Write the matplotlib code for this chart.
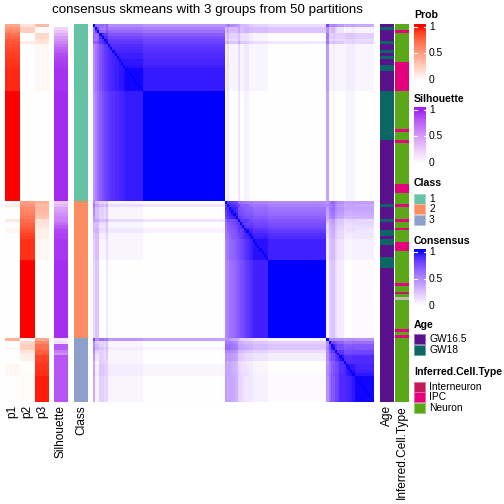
import numpy as np
import matplotlib
matplotlib.use('Agg')
import matplotlib.pyplot as plt
from matplotlib.colors import ListedColormap, to_rgb
from matplotlib.patches import Rectangle

plt.rcParams['font.family'] = ['Liberation Sans', 'DejaVu Sans']

# membership probabilities and silhouette, per sample, by class
p1_c1 = [0.45, 0.55, 0.62, 0.7, 0.75, 0.8, 0.82, 0.85, 0.87, 0.88, 0.9, 0.9, 0.92, 0.92, 0.93] + [0.95] * 8 + [1.0] * 38
p2_c1 = [0.15, 0.25, 0.25, 0, 0, 0, 0.1] + [0] * 54
p3_c1 = [0.35, 0.03, 0.03, 0.2, 0.2, 0.15, 0.15] + [0.04] * 16 + [0] * 38
sil_c1 = [0, 0.2, 0.3, 0.4, 0.5, 0.55, 0.6, 0.68, 0.75, 0.8, 0.85, 0.88, 0.9, 0.92, 0.93] + [0.95] * 8 + [0.97] * 38

p1_c2 = [0, 0.1, 0, 0, 0, 0, 0.12, 0, 0, 0.05, 0.05] + [0] * 36
p2_c2 = [0.5, 0.55, 0.6, 0.62, 0.65, 0.68, 0.72, 0.75, 0.78, 0.82, 0.85, 0.88, 0.9] + [0.93] * 7 + [1.0] * 27
p3_c2 = [0.4, 0.35, 0.38, 0.35, 0.33, 0.3, 0.15, 0.15, 0.12, 0.1, 0.08, 0.08, 0.08] + [0.04] * 7 + [0] * 27
sil_c2 = [0.28, 0.35, 0.45, 0.5, 0.55, 0.6, 0.62, 0.7, 0.8, 0.85, 0.88, 0.9, 0.9] + [0.93] * 7 + [0.96] * 27

p1_c3 = [0.4, 0, 0, 0.04, 0, 0, 0, 0, 0, 0.04, 0.04, 0.04, 0.04] + [0] * 9
p2_c3 = [0.05, 0.2, 0.25, 0.25, 0.15, 0.08, 0.08, 0.08, 0, 0, 0, 0] + [0.02] * 10
p3_c3 = [0.45, 0.6, 0.7, 0.7, 0.78, 0.8, 0.88, 0.88, 0.9, 0.92, 0.92, 0.94, 0.94] + [0.97] * 9
sil_c3 = [0.1, 0.15, 0.8, 0.8, 0.65, 0.55] + [0.82] * 16

class_labels = ['1', '2', '3']
class_colors = ['#66C2A5', '#FC8D62', '#8DA0CB']

# column annotations as runs (value, count)
age_levels = ['GW16.5', 'GW18']
age_colors = ['#5A128C', '#0A6766']
age_runs = ['GW16.5', 'GW18', 'GW16.5', 'GW18', 'GW16.5', 'GW18', 'GW16.5', 'GW18', 'GW16.5', 'GW18', 'GW16.5',
            'GW18', 'GW16.5', 'GW18', 'GW16.5', 'GW18', 'GW16.5', 'GW18', 'GW16.5', 'GW18', 'GW16.5', 'GW18', 'GW16.5']
age_counts = [1, 1, 4, 1, 2, 1, 1, 1, 2, 2, 7, 17, 22, 1, 4, 1, 3, 2, 1, 2, 4, 4, 46]

cell_levels = ['Interneuron', 'IPC', 'Neuron']
cell_colors = ['#C4185A', '#E5007D', '#5AA817']
na_color = '#BEBEBE'
cell_runs = ['Neuron', 'IPC', 'Neuron', 'IPC', 'Neuron', 'IPC', 'Neuron', 'IPC', 'Neuron', 'IPC', 'Neuron',
             'IPC', 'Neuron', 'IPC', 'Neuron', 'IPC', 'Neuron', 'IPC', 'Neuron', 'IPC', 'Neuron', 'Interneuron',
             'Neuron', 'NA', 'Neuron', 'IPC', 'Neuron', 'IPC', 'Neuron']
cell_counts = [2, 1, 10, 10, 13, 1, 3, 1, 14, 3, 4, 1, 4, 1, 2, 1, 4, 3, 11, 1, 2, 1, 1, 1, 10, 1, 1, 1, 22]


def srgb_to_lab(rgb):
    M = np.array([[0.4124, 0.3576, 0.1805], [0.2126, 0.7152, 0.0722], [0.0193, 0.1192, 0.9505]])
    rgb = np.asarray(rgb, float)
    lin = np.where(rgb <= 0.04045, rgb / 12.92, ((rgb + 0.055) / 1.055) ** 2.4)
    xyz = M @ lin / np.array([0.95047, 1.0, 1.08883])
    f = np.where(xyz > 0.008856, np.cbrt(xyz), 7.787 * xyz + 16 / 116)
    return np.array([116 * f[1] - 16, 500 * (f[0] - f[1]), 200 * (f[1] - f[2])])


def lab_to_srgb(lab):
    M = np.array([[0.4124, 0.3576, 0.1805], [0.2126, 0.7152, 0.0722], [0.0193, 0.1192, 0.9505]])
    L, a, b = lab.T
    fy = (L + 16) / 116
    f = np.stack([fy + a / 500, fy, fy - b / 200], axis=1)
    xyz = np.where(f ** 3 > 0.008856, f ** 3, (f - 16 / 116) / 7.787) * np.array([0.95047, 1.0, 1.08883])
    lin = np.clip(xyz @ np.linalg.inv(M).T, 0, None)
    rgb = np.where(lin <= 0.0031308, 12.92 * lin, 1.055 * lin ** (1 / 2.4) - 0.055)
    return np.clip(rgb, 0, 1)


def lab_ramp(end):
    a = srgb_to_lab([1, 1, 1])
    b = srgb_to_lab(to_rgb(end))
    t = np.linspace(0, 1, 256)[:, None]
    return ListedColormap(lab_to_srgb(a + t * (b - a)))


prob_cmap = lab_ramp('red')
sil_cmap = lab_ramp('#A020F0')
cons_cmap = lab_ramp('blue')

p1 = np.array(p1_c1 + p1_c2 + p1_c3)
p2 = np.array(p2_c1 + p2_c2 + p2_c3)
p3 = np.array(p3_c1 + p3_c2 + p3_c3)
sil = np.array(sil_c1 + sil_c2 + sil_c3)
cls = np.repeat([0, 1, 2], [len(p1_c1), len(p1_c2), len(p1_c3)])
n = len(p1)

# consensus: shared membership between samples
P = np.column_stack([p1, p2, p3])
cons = np.minimum(P[:, None, :], P[None, :, :]).sum(-1)
np.fill_diagonal(cons, 1)
cons = np.clip(cons, 0, 1)

age = np.repeat(age_runs, age_counts)
cell = np.repeat(cell_runs, cell_counts)
age_rgb = np.array([to_rgb(age_colors[age_levels.index(a)]) for a in age])
cell_rgb = np.array([to_rgb(cell_colors[cell_levels.index(c)]) if c in cell_levels else to_rgb(na_color)
                     for c in cell])
cls_rgb = np.array([to_rgb(class_colors[c]) for c in cls])

fig = plt.figure(figsize=(5.04, 5.04), dpi=100)
ax = fig.add_axes([0, 0, 1, 1])
ax.set_xlim(0, 504)
ax.set_ylim(504, 0)
ax.set_axis_off()

top, bot = 24, 402


def column(rgb, x0, x1):
    ax.imshow(rgb[:, None, :], extent=[x0, x1, bot, top], aspect='auto', interpolation='nearest')


column(prob_cmap(p1)[:, :3], 5, 19.5)
column(prob_cmap(p2)[:, :3], 20, 34.5)
column(prob_cmap(p3)[:, :3], 35, 49)
column(sil_cmap(sil)[:, :3], 54, 68)
column(cls_rgb, 74, 88)
ax.imshow(cons_cmap(cons)[:, :, :3], extent=[93, 374, bot, top], aspect='auto', interpolation='nearest')
column(age_rgb, 380, 394)
column(cell_rgb, 395, 409)

ax.text(207, 10, 'consensus skmeans with 3 groups from 50 partitions', ha='center', va='center', fontsize=9.6)

for lab, xc in [('p1', 12.5), ('p2', 27.5), ('p3', 42), ('Silhouette', 61), ('Class', 81),
                ('Age', 387), ('Inferred.Cell.Type', 402)]:
    ax.text(xc, 405, lab, rotation=90, ha='center', va='top', fontsize=8.6)


def bar_legend(title, cmap, y_title, y0, y1):
    ax.text(414, y_title, title, fontweight='bold', fontsize=7.6, va='center', ha='left')
    ys = np.arange(y0, y1, 0.5)
    hi, lo = y0 + 2.7, y1 - 2.3
    vals = np.clip((lo - ys) / (lo - hi), 0, 1)
    ax.imshow(cmap(vals)[:, None, :3], extent=[414, 426, y1, y0], aspect='auto', interpolation='bilinear')
    for v, s in [(1, '1'), (0.5, '0.5'), (0, '0')]:
        y = lo - v * (lo - hi)
        ax.text(429, y, s, fontsize=7.4, va='center', ha='left')
        if v > 0:
            ax.plot([414, 416.5], [y, y], color='white', lw=0.8)
            ax.plot([423.5, 426], [y, y], color='white', lw=0.8)


def swatch_legend(title, labels, colors, y_title, y0, step):
    ax.text(414, y_title, title, fontweight='bold', fontsize=7.6, va='center', ha='left')
    for i, (lab, col) in enumerate(zip(labels, colors)):
        y = y0 + i * step
        ax.add_patch(Rectangle((414, y), 11, step - 0.6, facecolor=col,
                               edgecolor=tuple(0.6 * np.array(to_rgb(col)) + 0.4), lw=0.7))
        ax.text(429, y + step / 2, lab, fontsize=7.4, va='center', ha='left')


bar_legend('Prob', prob_cmap, 15, 24, 82)
bar_legend('Silhouette', sil_cmap, 99, 107, 165)
swatch_legend('Class', class_labels, class_colors, 183, 193.5, 10.6)
bar_legend('Consensus', cons_cmap, 241, 249, 308)
swatch_legend('Age', age_levels, age_colors, 325, 334, 10.6)
swatch_legend('Inferred.Cell.Type', cell_levels, cell_colors, 372, 381.5, 10.6)

fig.savefig('out.png', dpi=100)
